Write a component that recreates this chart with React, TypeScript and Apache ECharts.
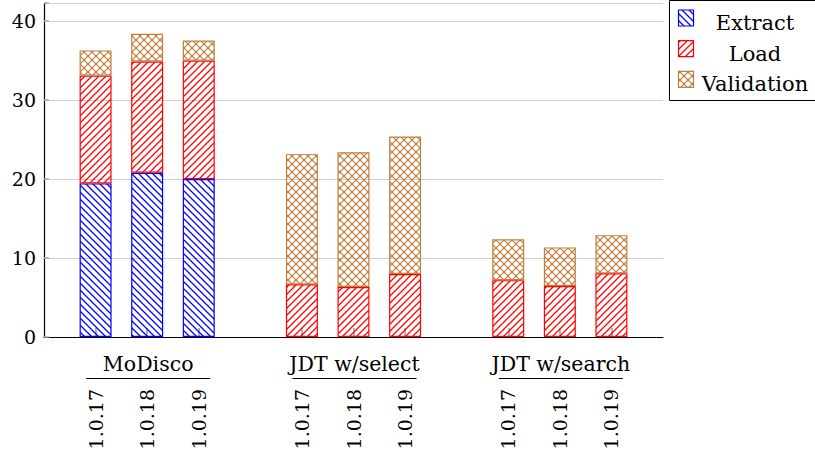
import React, { useEffect, useRef } from 'react';
import * as echarts from 'echarts';

const groups = ['MoDisco', 'JDT w/select', 'JDT w/search'];
const versions = ['1.0.17', '1.0.18', '1.0.19'];
const seriesNames = ['Extract', 'Load', 'Validation'];
// values per bar, in order MoDisco(3), JDT w/select(3), JDT w/search(3)
const extractValues: (number | null)[] = [19.45, 20.8, 20.0, null, null, null, null, null, null];
const loadValues: (number | null)[] = [13.65, 14.1, 15.0, 6.67, 6.33, 7.97, 7.2, 6.45, 8.06];
const validationValues: (number | null)[] = [3.2, 3.5, 2.55, 16.49, 17.07, 17.43, 5.17, 4.9, 4.84];
const yTickValues = [0, 10, 20, 30, 40];

const BLUE = '#0000ff';
const RED = '#ff0000';
const BROWN = '#bf8040';
const FONT = 'DejaVu Serif';

function linePattern(color: string, dir: 'ne' | 'nw', size = 7, lw = 1.25) {
  const c = document.createElement('canvas');
  c.width = size;
  c.height = size;
  const ctx = c.getContext('2d')!;
  ctx.strokeStyle = color;
  ctx.lineWidth = lw;
  ctx.beginPath();
  for (const o of [-size, 0, size]) {
    if (dir === 'ne') {
      ctx.moveTo(o - 1, size + 1);
      ctx.lineTo(o + size + 1, -1);
    } else {
      ctx.moveTo(o - 1, -1);
      ctx.lineTo(o + size + 1, size + 1);
    }
  }
  ctx.stroke();
  return { image: c, repeat: 'repeat', imageWidth: size, imageHeight: size } as any;
}

function crossPattern(color: string, size = 8, lw = 1.1) {
  const c = document.createElement('canvas');
  c.width = size;
  c.height = size;
  const ctx = c.getContext('2d')!;
  ctx.strokeStyle = color;
  ctx.fillStyle = color;
  ctx.lineWidth = lw;
  ctx.beginPath();
  for (const o of [-size, 0, size]) {
    ctx.moveTo(o - 1, size + 1);
    ctx.lineTo(o + size + 1, -1);
    ctx.moveTo(o - 1, -1);
    ctx.lineTo(o + size + 1, size + 1);
  }
  ctx.stroke();
  const dots = [
    [0, 0], [size, 0], [0, size], [size, size], [size / 2, size / 2],
  ];
  for (const [x, y] of dots) {
    ctx.beginPath();
    ctx.arc(x, y, 1.3, 0, Math.PI * 2);
    ctx.fill();
  }
  return { image: c, repeat: 'repeat', imageWidth: size, imageHeight: size } as any;
}

export default function App() {
  const ref = useRef<HTMLDivElement>(null);

  useEffect(() => {
    if (!ref.current) return;
    const chart = echarts.init(ref.current, undefined, { renderer: 'svg' });

    // category slots: a gap before each group and one at the end
    const categories: string[] = [];
    const slotIndexOfBar: number[] = [];
    groups.forEach((g, gi) => {
      categories.push('gap' + gi);
      versions.forEach((v) => {
        slotIndexOfBar.push(categories.length);
        categories.push(g + '|' + v);
      });
    });
    categories.push('gapEnd');

    const toSlots = (vals: (number | null)[]) => {
      const arr: (number | null)[] = categories.map(() => null);
      vals.forEach((v, i) => {
        arr[slotIndexOfBar[i]] = v;
      });
      return arr;
    };

    const patterns = [linePattern(BLUE, 'nw'), linePattern(RED, 'ne'), crossPattern(BROWN)];
    const borderColors = [BLUE, RED, BROWN];
    const valueSets = [extractValues, loadValues, validationValues];

    const option: any = {
      animation: false,
      textStyle: { fontFamily: FONT },
      grid: { left: 44, top: 3, right: 152, bottom: 116, containLabel: false },
      xAxis: {
        type: 'category',
        data: categories,
        boundaryGap: false,
        axisLine: { lineStyle: { color: '#000', width: 1.2 } },
        axisTick: {
          inside: true,
          length: 9,
          interval: (_i: number, v: string) => !v.startsWith('gap'),
          lineStyle: { color: '#999', width: 1.5 },
        },
        axisLabel: {
          interval: 0,
          rotate: 90,
          margin: 52,
          color: '#000',
          fontFamily: FONT,
          fontSize: 19,
          formatter: (v: string) => (v.startsWith('gap') ? '' : v.split('|')[1]),
        },
        splitLine: { show: false },
      },
      yAxis: {
        type: 'value',
        min: 0,
        max: 42.3,
        interval: 10,
        axisLine: { show: true, lineStyle: { color: '#000', width: 1.2 } },
        axisTick: { show: true, inside: true, length: 5, lineStyle: { color: '#aaa', width: 1.5 } },
        axisLabel: {
          color: '#000',
          fontFamily: FONT,
          fontSize: 19,
          margin: 8,
          formatter: (v: number) => (yTickValues.indexOf(v) >= 0 ? String(v) : ''),
        },
        splitLine: { show: true, lineStyle: { color: '#cfcfcf', width: 1 } },
      },
      series: seriesNames.map((name, si) => ({
        name,
        type: 'bar',
        stack: 'total',
        barWidth: 32,
        data: toSlots(valueSets[si]),
        itemStyle: { color: patterns[si], borderColor: borderColors[si], borderWidth: 1.2 },
        emphasis: { disabled: true },
      })),
    };

    chart.setOption(option);

    const graphics: any[] = [];
    // group labels with underline, centred at middle bar of each group
    groups.forEach((g) => {
      const px = chart.convertToPixel({ xAxisIndex: 0 }, g + '|' + versions[1]) as number;
      graphics.push({
        type: 'text',
        x: px + 1,
        y: 364,
        style: {
          text: g,
          fontFamily: FONT,
          fontSize: 20.5,
          fill: '#000',
          align: 'center',
          verticalAlign: 'middle',
        },
      });
      graphics.push({
        type: 'line',
        shape: { x1: px - 61, y1: 378.5, x2: px + 63, y2: 378.5 },
        style: { stroke: '#000', lineWidth: 1.2 },
      });
    });

    // legend box
    graphics.push({
      type: 'rect',
      shape: { x: 669.5, y: 0.5, width: 150, height: 100 },
      style: { fill: '#fff', stroke: '#000', lineWidth: 1 },
    });
    seriesNames.forEach((name, i) => {
      const cy = 18 + i * 30.7;
      graphics.push({
        type: 'rect',
        shape: { x: 678.5, y: cy - 8, width: 15, height: 16 },
        style: { fill: patterns[i], stroke: borderColors[i], lineWidth: 1.2 },
      });
      graphics.push({
        type: 'text',
        x: 755,
        y: cy + 5,
        style: {
          text: name,
          fontFamily: FONT,
          fontSize: 21,
          fill: '#000',
          align: 'center',
          verticalAlign: 'middle',
        },
      });
    });

    chart.setOption({ graphic: graphics });

    return () => {
      chart.dispose();
    };
  }, []);

  return (
    <div
      ref={ref}
      style={{ position: 'fixed', left: 0, top: 0, width: 815, height: 453, background: '#fff' }}
    />
  );
}
